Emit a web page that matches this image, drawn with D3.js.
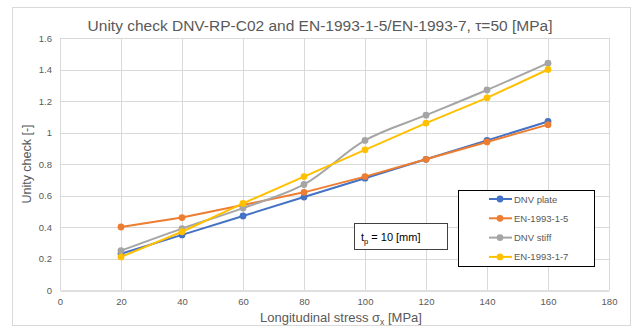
<!DOCTYPE html>
<html>
<head>
<meta charset="utf-8">
<script src="https://cdn.jsdelivr.net/npm/d3@7"></script>
<style>
  html, body { margin: 0; padding: 0; background: #fff; }
  svg { display: block; font-family: "Liberation Sans", Arial, sans-serif; }
</style>
</head>
<body>
<svg id="chart" width="637" height="331"></svg>
<script>
// Longitudinal stress values [MPa]
const stress = [20, 40, 60, 80, 100, 120, 140, 160];

// Unity check per method
const dnvPlate  = [0.23, 0.35, 0.47, 0.59, 0.71, 0.83, 0.95, 1.07];
const en199315  = [0.40, 0.46, 0.54, 0.62, 0.72, 0.83, 0.94, 1.05];
const dnvStiff  = [0.25, 0.39, 0.52, 0.67, 0.95, 1.11, 1.27, 1.44];
const en199317  = [0.21, 0.37, 0.55, 0.72, 0.89, 1.06, 1.22, 1.40];

const seriesNames = ["DNV plate", "EN-1993-1-5", "DNV stiff", "EN-1993-1-7"];
const seriesValues = [dnvPlate, en199315, dnvStiff, en199317];
const seriesColors = ["#4472C4", "#ED7D31", "#A5A5A5", "#FFC000"];

const xTicks = [0, 20, 40, 60, 80, 100, 120, 140, 160, 180];
const yTicks = [0, 0.2, 0.4, 0.6, 0.8, 1, 1.2, 1.4, 1.6];

const svg = d3.select("#chart");
const textColor = "#595959";

// chart frame
svg.append("rect")
  .attr("x", 12.5).attr("y", 7.5).attr("width", 618).attr("height", 318)
  .attr("fill", "#fff").attr("stroke", "#d9d9d9");

const x = d3.scaleLinear().domain([0, 180]).range([60, 609]);
const y = d3.scaleLinear().domain([0, 1.6]).range([290, 38]);

// gridlines
svg.append("g").selectAll("line").data(xTicks).join("line")
  .attr("x1", d => Math.round(x(d)) + 0.5).attr("x2", d => Math.round(x(d)) + 0.5)
  .attr("y1", y(1.6)).attr("y2", y(0))
  .attr("stroke", "#d9d9d9").attr("stroke-width", 1);
svg.append("g").selectAll("line").data(yTicks.slice(1)).join("line")
  .attr("x1", x(0)).attr("x2", x(180))
  .attr("y1", d => Math.round(y(d)) + 0.5).attr("y2", d => Math.round(y(d)) + 0.5)
  .attr("stroke", "#d9d9d9").attr("stroke-width", 1);

// x axis
const xAxis = svg.append("g")
  .attr("transform", `translate(0,${Math.round(y(0)) + 0.5})`)
  .call(d3.axisBottom(x).tickValues(xTicks).tickSize(0).tickPadding(8).tickFormat(d3.format("d")));
xAxis.select(".domain").attr("stroke", "#bfbfbf");
xAxis.selectAll("text").attr("fill", textColor).style("font-size", "9.5px");

// y axis
const yAxis = svg.append("g")
  .attr("transform", `translate(${x(0)},0)`)
  .call(d3.axisLeft(y).tickValues(yTicks).tickSize(0).tickPadding(8).tickFormat(d => String(+d.toFixed(1))));
yAxis.select(".domain").remove();
yAxis.selectAll("text").attr("fill", textColor).style("font-size", "9.5px");

// series
seriesValues.forEach((vals, i) => {
  const pts = stress.map((s, j) => [s, vals[j]]);
  const line = d3.line()
    .x(d => x(d[0])).y(d => y(d[1]))
    .curve(i === 2 ? d3.curveCatmullRom.alpha(0.5) : d3.curveLinear);
  svg.append("path").datum(pts)
    .attr("d", line).attr("fill", "none")
    .attr("stroke", seriesColors[i]).attr("stroke-width", 2)
    .attr("stroke-linejoin", "round");
  svg.append("g").selectAll("circle").data(pts).join("circle")
    .attr("cx", d => x(d[0])).attr("cy", d => y(d[1])).attr("r", 3.4)
    .attr("fill", seriesColors[i]);
});

// title
svg.append("text")
  .attr("x", 320).attr("y", 31).attr("text-anchor", "middle")
  .attr("fill", textColor).style("font-size", "15.5px")
  .text("Unity check DNV-RP-C02 and EN-1993-1-5/EN-1993-7, τ=50 [MPa]");

// axis titles
const xTitle = svg.append("text")
  .attr("x", 341).attr("y", 322).attr("text-anchor", "middle")
  .attr("fill", textColor).style("font-size", "13px");
xTitle.append("tspan").text("Longitudinal stress σ");
xTitle.append("tspan").attr("dy", 3).style("font-size", "8.5px").text("x");
xTitle.append("tspan").attr("dy", -3).text(" [MPa]");

svg.append("text")
  .attr("transform", `translate(31,${y(0.8)}) rotate(-90)`)
  .attr("text-anchor", "middle")
  .attr("fill", textColor).style("font-size", "12.5px")
  .text("Unity check [-]");

// thickness annotation
svg.append("rect")
  .attr("x", 354.5).attr("y", 223.5).attr("width", 93).attr("height", 26)
  .attr("fill", "#fff").attr("stroke", "#404040").attr("stroke-width", 1);
const tp = svg.append("text").attr("x", 361).attr("y", 241)
  .attr("fill", "#000").style("font-size", "11px");
tp.append("tspan").text("t");
tp.append("tspan").attr("dy", 3).style("font-size", "7.5px").text("p");
tp.append("tspan").attr("dy", -3).text(" = 10 [mm]");

// legend
const legend = svg.append("g");
legend.append("rect")
  .attr("x", 458.5).attr("y", 190.5).attr("width", 136).attr("height", 76)
  .attr("fill", "#fff").attr("stroke", "#000").attr("stroke-width", 1);
seriesNames.forEach((name, i) => {
  const ly = 199 + i * 19.3;
  legend.append("line")
    .attr("x1", 489).attr("x2", 512).attr("y1", ly).attr("y2", ly)
    .attr("stroke", seriesColors[i]).attr("stroke-width", 2);
  legend.append("circle").attr("cx", 500).attr("cy", ly).attr("r", 3.4)
    .attr("fill", seriesColors[i]);
  legend.append("text").attr("x", 514).attr("y", ly + 3.5)
    .attr("fill", textColor).style("font-size", "9.5px").text(name);
});
</script>
</body>
</html>
